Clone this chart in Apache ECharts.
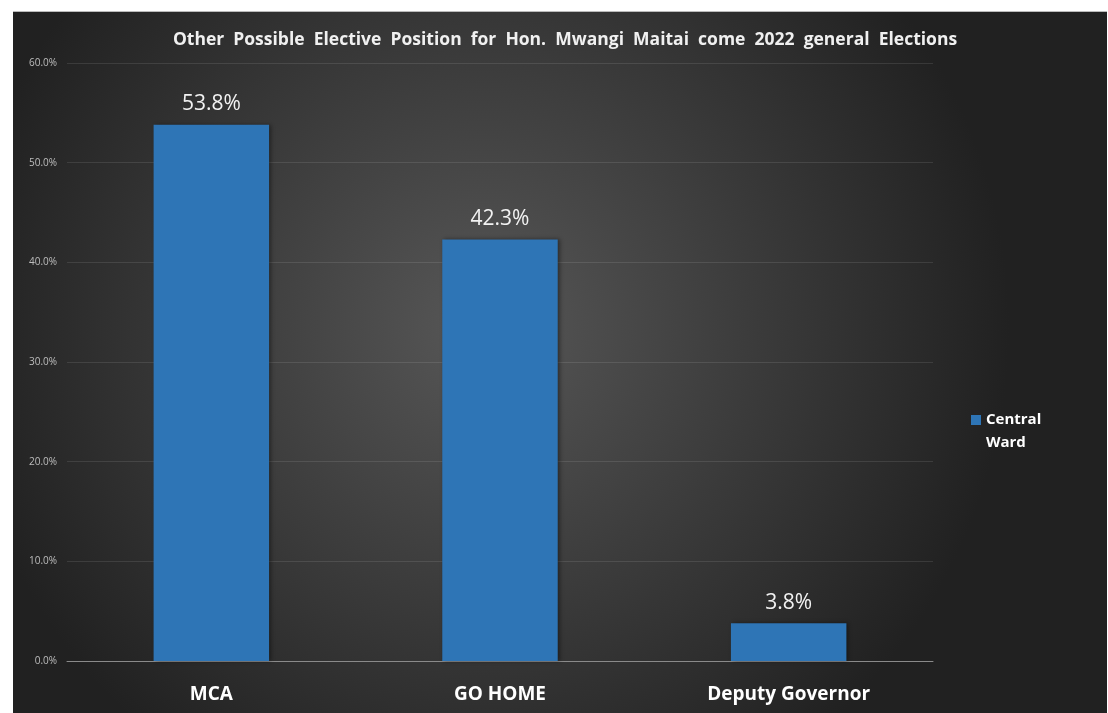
<!DOCTYPE html>
<html>
<head>
<meta charset="utf-8">
<script src="https://cdn.jsdelivr.net/npm/echarts@6/dist/echarts.min.js"></script>
<style>
  html, body { margin: 0; padding: 0; background: #fff; }
  #chart { position: absolute; left: 13px; top: 11px; width: 1094px; height: 702px; border-top: 1px solid #bbb; box-sizing: border-box; }
</style>
</head>
<body>
<div id="chart"></div>
<script>
// chart data
const categories = ['MCA', 'GO HOME', 'Deputy Governor']
const centralWard = [53.8, 42.3, 3.8]
const seriesName = 'Central Ward'

let chart = echarts.init(document.getElementById('chart'))

let option = {
    backgroundColor: {
        type: 'radial',
        x: 0.43, y: 0.45, r: 0.75,
        colorStops: [
            { offset: 0, color: '#575757' },
            { offset: 1, color: '#212121' }
        ]
    },
    title: {
        text: 'Other  Possible  Elective  Position  for  Hon.  Mwangi  Maitai  come  2022  general  Elections',
        left: 547,
        top: 14,
        textAlign: 'center',
        textStyle: {
            color: '#f0f0f0',
            fontFamily: 'Open Sans',
            fontWeight: 'bold',
            fontSize: 17.5
        }
    },
    legend: {
        data: [seriesName],
        orient: 'vertical',
        left: 958,
        top: 396,
        padding: 0,
        // square sits at the top of a tall box so it lines up with the first text line
        icon: 'path://M0,0L10,0L10,10L0,10Z M0,32L0,32Z',
        itemWidth: 10,
        itemHeight: 32,
        itemGap: 0,
        formatter: function (name) {
            return name.replace(' ', '\n')
        },
        textStyle: {
            color: '#ffffff',
            fontFamily: 'Open Sans',
            fontWeight: 'bold',
            fontSize: 15,
            lineHeight: 23
        }
    },
    grid: {
        left: 54,
        right: 174,
        top: 51,
        bottom: 52,
        containLabel: false
    },
    xAxis: {
        type: 'category',
        data: categories,
        axisTick: { show: false },
        axisLine: { lineStyle: { color: '#8a8a8a', width: 1 } },
        axisLabel: {
            color: '#ffffff',
            fontFamily: 'Open Sans',
            fontWeight: 'bold',
            fontSize: 19,
            margin: 24
        }
    },
    yAxis: {
        type: 'value',
        min: 0,
        max: 60,
        interval: 10,
        axisLine: { show: false },
        axisTick: { show: false },
        splitLine: { lineStyle: { color: 'rgba(255,255,255,0.1)' } },
        axisLabel: {
            color: '#bdbdbd',
            fontFamily: 'Open Sans',
            fontSize: 10,
            margin: 10,
            formatter: function (v) {
                return v.toFixed(1) + '%'
            }
        }
    },
    series: [
        {
            name: seriesName,
            type: 'bar',
            data: centralWard,
            barWidth: '40%',
            itemStyle: {
                color: '#2e75b6',
                shadowColor: 'rgba(0,0,0,0.4)',
                shadowBlur: 4,
                shadowOffsetX: 2
            },
            label: {
                show: true,
                position: 'top',
                distance: 10,
                color: '#f2f2f2',
                fontFamily: 'Open Sans',
                fontSize: 21,
                formatter: function (p) {
                    return p.value.toFixed(1) + '%'
                }
            }
        }
    ]
}

chart.setOption(option)
window.addEventListener('resize', function () {
    chart.resize()
})
</script>
</body>
</html>
